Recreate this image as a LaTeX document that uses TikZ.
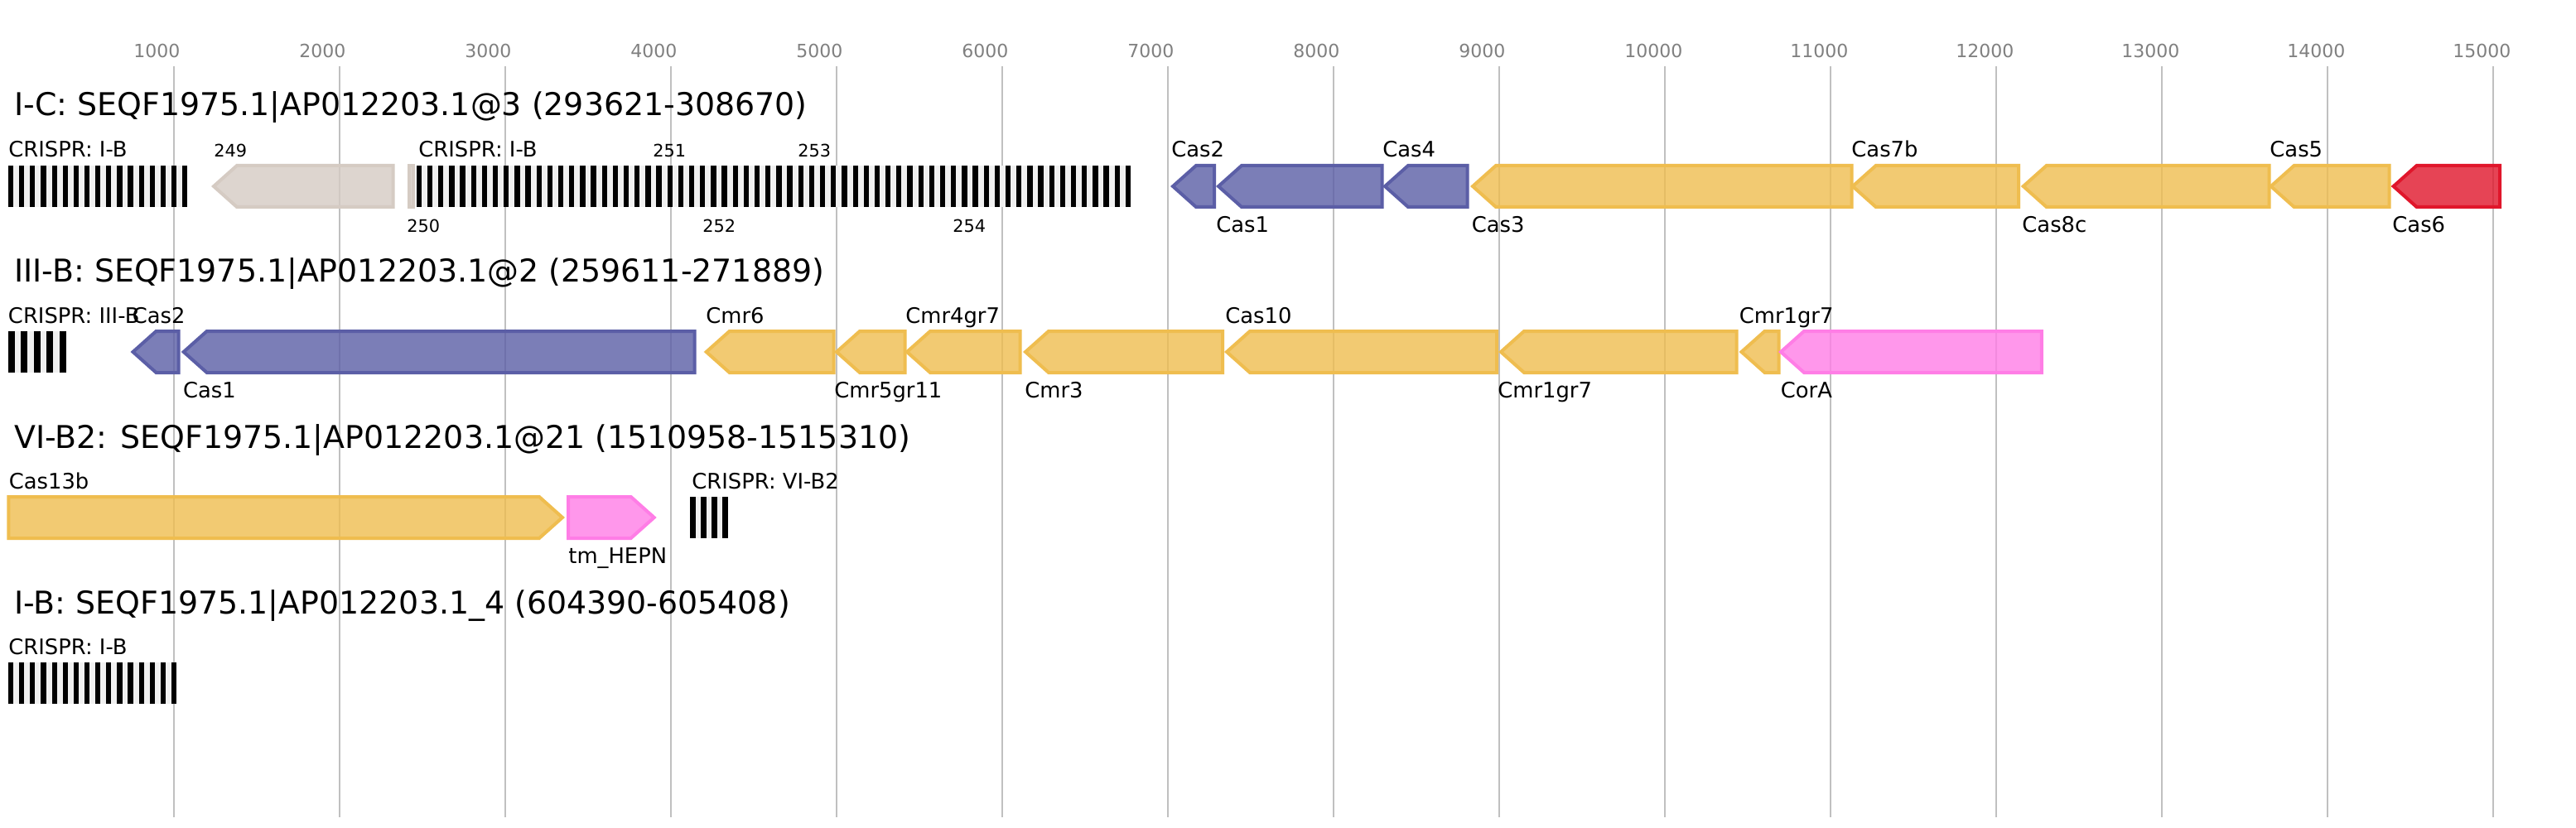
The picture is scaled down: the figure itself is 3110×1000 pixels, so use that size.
\documentclass[tikz,border=0pt]{standalone}
\usepackage{fontspec}
\setmainfont{DejaVu Sans}
\definecolor{cblue}{RGB}{91,94,166}
\definecolor{cyellow}{RGB}{239,189,79}
\definecolor{cred}{RGB}{224,22,43}
\definecolor{cpink}{RGB}{255,125,230}
\definecolor{ctan}{RGB}{213,203,195}
\definecolor{gridgray}{RGB}{192,192,192}
\definecolor{tickgray}{RGB}{128,128,128}
\definecolor{crisprbg}{RGB}{240,240,240}
\tikzset{
  gene/.style={draw=#1, fill=#1, fill opacity=0.8, line width=2pt, line join=miter},
  glabel/.style={anchor=base west, inner sep=0pt, font=\fontsize{12.9}{14}\selectfont},
  nlabel/.style={anchor=base west, inner sep=0pt, font=\fontsize{10.4}{12}\selectfont},
  heading/.style={anchor=base west, inner sep=0pt, font=\fontsize{18.95}{22}\selectfont},
  ticklabel/.style={anchor=base west, inner sep=0pt, text=tickgray, font=\fontsize{11}{13}\selectfont},
  gridline/.style={draw=gridgray, line width=1pt},
}
\newcommand{\revgene}[4]{%
  \draw[gene=#4] (#1,#3+25) -- ({#1+28},#3) -- (#2,#3) -- (#2,#3+50) -- ({#1+28},#3+50) -- cycle;}
\newcommand{\fwdgene}[4]{%
  \draw[gene=#4] (#1,#3) -- ({#2-28},#3) -- (#2,#3+25) -- ({#2-28},#3+50) -- (#1,#3+50) -- cycle;}
\newcommand{\crisprarr}[5]{%
  \fill[crisprbg] (#1,#5) rectangle ({#1+(#2-1)*#3+#4},#5+50);
  \foreach \i in {1,...,#2} {\fill[black] ({#1+(\i-1)*#3},#5) rectangle ({#1+(\i-1)*#3+#4},#5+50);}}
\begin{document}
\begin{tikzpicture}[x=0.5pt,y=-0.5pt]
\fill[white] (0,0) rectangle (3110,1000);
\useasboundingbox (0,0) rectangle (3110,1000);
% grid and ticks
\foreach \k in {1,...,15} {
  \draw[gridline] ({10+200*\k},80) -- ({10+200*\k},987);
  \node[ticklabel] (tick\k) at ({10+200*\k-49},70) {\k000};
}
% headings
\node[heading] (h1) at (17,140) {I-C: SEQF1975.1|AP012203.1@3 (293621-308670)};
\node[heading] (h2) at (17,340) {III-B: SEQF1975.1|AP012203.1@2 (259611-271889)};
\node[heading] (h3) at (17,541) {VI-B2: SEQF1975.1|AP012203.1@21 (1510958-1515310)};
\node[heading] (h4) at (17,741) {I-B: SEQF1975.1|AP012203.1\_4 (604390-605408)};

% ---------- row 1 (I-C) ----------
\revgene{258}{474.5}{200}{ctan}
\draw[gene=ctan] (493.7,200) rectangle (498.7,250);
\crisprarr{10}{17}{13.13}{6.2}{200}
\crisprarr{502.7}{66}{13.17}{6.3}{200}
\revgene{1416}{1466}{200}{cblue}
\revgene{1471}{1668.5}{200}{cblue}
\revgene{1672}{1771.5}{200}{cblue}
\revgene{1778}{2235.7}{200}{cyellow}
\revgene{2236.7}{2437}{200}{cyellow}
\revgene{2442.7}{2739.5}{200}{cyellow}
\revgene{2741.6}{2884.6}{200}{cyellow}
\revgene{2889.6}{3018}{200}{cred}
\node[glabel] (r1a) at (10,190) {CRISPR: I-B};
\node[nlabel] (r1b) at (258,190) {249};
\node[glabel] (r1c) at (505,190) {CRISPR: I-B};
\node[nlabel] (r1d) at (788,190) {251};
\node[nlabel] (r1e) at (963,190) {253};
\node[glabel] (r1f) at (1414,190) {Cas2};
\node[glabel] (r1g) at (1669,190) {Cas4};
\node[glabel] (r1h) at (2235,190) {Cas7b};
\node[glabel] (r1i) at (2740,190) {Cas5};
\node[nlabel] (r1j) at (491,280) {250};
\node[nlabel] (r1k) at (848,280) {252};
\node[nlabel] (r1l) at (1150,280) {254};
\node[glabel] (r1m) at (1468,280) {Cas1};
\node[glabel] (r1n) at (1776.5,280) {Cas3};
\node[glabel] (r1o) at (2441,280) {Cas8c};
\node[glabel] (r1p) at (2888,280) {Cas6};

% ---------- row 2 (III-B) ----------
\crisprarr{9.6}{5}{15.5}{8}{400}
\revgene{160.5}{215.5}{400}{cblue}
\revgene{221.7}{838.6}{400}{cblue}
\revgene{852.7}{1006.5}{400}{cyellow}
\revgene{1010}{1092.6}{400}{cyellow}
\revgene{1095}{1231.7}{400}{cyellow}
\revgene{1238}{1476}{400}{cyellow}
\revgene{1481}{1807}{400}{cyellow}
\revgene{1812}{2096.5}{400}{cyellow}
\revgene{2102.5}{2147.5}{400}{cyellow}
\revgene{2150}{2464.8}{400}{cpink}
\node[glabel] (r2a) at (9.6,390) {CRISPR: III-B};
\node[glabel] (r2b) at (159.5,390) {Cas2};
\node[glabel] (r2c) at (852,390) {Cmr6};
\node[glabel] (r2d) at (1093,390) {Cmr4gr7};
\node[glabel] (r2e) at (1479,390) {Cas10};
\node[glabel] (r2f) at (2099.5,390) {Cmr1gr7};
\node[glabel] (r2g) at (220.7,480) {Cas1};
\node[glabel] (r2h) at (1007,480) {Cmr5gr11};
\node[glabel] (r2i) at (1237,480) {Cmr3};
\node[glabel] (r2j) at (1808,480) {Cmr1gr7};
\node[glabel] (r2k) at (2149.5,480) {CorA};

% ---------- row 3 (VI-B2) ----------
\fwdgene{10.4}{679}{600}{cyellow}
\fwdgene{686}{789.7}{600}{cpink}
\crisprarr{833.4}{4}{13}{7}{600}
\node[glabel] (r3a) at (10.5,590) {Cas13b};
\node[glabel] (r3b) at (835,590) {CRISPR: VI-B2};
\node[glabel] (r3c) at (686,680) {tm\_HEPN};

% ---------- row 4 (I-B) ----------
\crisprarr{10}{16}{13.13}{6.2}{800}
\node[glabel] (r4a) at (10,790) {CRISPR: I-B};
\end{tikzpicture}
\end{document}
